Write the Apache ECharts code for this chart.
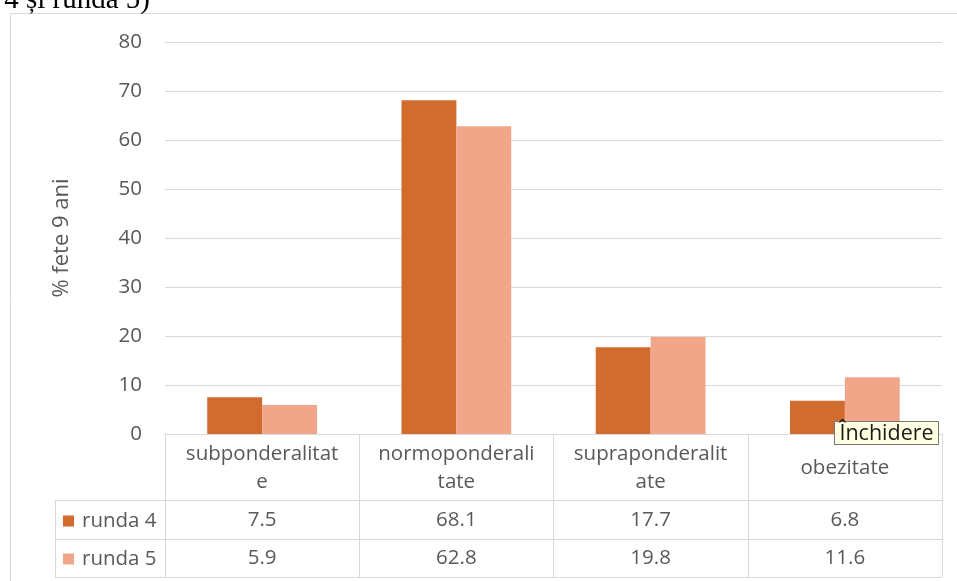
<!DOCTYPE html>
<html>
<head>
<meta charset="utf-8">
<script src="https://cdn.jsdelivr.net/npm/echarts@6/dist/echarts.min.js"></script>
<style>
html,body{margin:0;padding:0;background:#fff;}
#c{width:957px;height:581px;}
</style>
</head>
<body>
<div id="c"></div>
<script>
// ---- data ----
var categories = ['subponderalitate', 'normoponderalitate', 'supraponderalitate', 'obezitate'];
var categoryLabels = ['subponderalitat\ne', 'normoponderali\ntate', 'supraponderalit\nate', 'obezitate'];
var seriesNames = ['runda 4', 'runda 5'];
var runda4 = [7.5, 68.1, 17.7, 6.8];
var runda5 = [5.9, 62.8, 19.8, 11.6];
var yTicks = [0, 10, 20, 30, 40, 50, 60, 70, 80];
var yAxisTitle = '% fete 9 ani';
var topText = '(runda 4 și runda 5)';
var tooltipText = 'Închidere';

var FONT = '"Open Sans", "Noto Sans", sans-serif';
var FS = 20.5;
var GRAY = '#595959';
var LINE = '#d9d9d9';

var chart = echarts.init(document.getElementById('c'), null, {renderer: 'canvas'});

function headerRich(idx) {
  var parts = categoryLabels[idx].split('\n');
  var head;
  if (parts.length === 1) head = '{h2|' + parts[0] + '}';
  else head = parts.map(function (p) { return '{h|' + p + '}'; }).join('\n');
  return head + '\n{v1|' + runda4[idx].toFixed(1) + '}\n{v2|' + runda5[idx].toFixed(1) + '}';
}

var option = {
  animation: false,
  backgroundColor: '#ffffff',
  textStyle: {fontFamily: FONT},
  grid: {left: 165, right: 15, top: 42, bottom: 147, containLabel: false},
  legend: {
    orient: 'vertical',
    left: 58, top: 505,
    itemWidth: 11, itemHeight: 11, itemGap: 16,
    icon: 'rect',
    textStyle: {fontFamily: FONT, fontSize: FS, color: GRAY, lineHeight: 22, padding: [0, 0, 0, 3]},
    data: seriesNames
  },
  xAxis: {
    type: 'category',
    data: categories,
    axisLine: {show: true, lineStyle: {color: LINE, width: 1}},
    axisTick: {show: true, length: 143, interval: 0, lineStyle: {color: LINE, width: 1}},
    axisLabel: {
      interval: 0,
      margin: 6,
      verticalAlign: 'top',
      formatter: function (v, idx) { return headerRich(idx); },
      rich: {
        h: {fontFamily: FONT, fontSize: FS, color: GRAY, lineHeight: 28, align: 'center'},
        h2: {fontFamily: FONT, fontSize: FS, color: GRAY, lineHeight: 56, align: 'center'},
        v1: {fontFamily: FONT, fontSize: FS, color: GRAY, lineHeight: 48, align: 'center'},
        v2: {fontFamily: FONT, fontSize: FS, color: GRAY, lineHeight: 28, align: 'center'}
      }
    }
  },
  yAxis: {
    type: 'value',
    min: yTicks[0], max: yTicks[yTicks.length - 1], interval: yTicks[1] - yTicks[0],
    name: yAxisTitle,
    nameLocation: 'middle',
    nameGap: 92,
    nameRotate: 90,
    nameTextStyle: {fontFamily: FONT, fontSize: 22, color: GRAY},
    axisLine: {show: false},
    axisTick: {show: false},
    axisLabel: {fontFamily: FONT, fontSize: FS, color: GRAY, margin: 23},
    splitLine: {show: true, lineStyle: {color: LINE, width: 1}}
  },
  series: [
    {name: seriesNames[0], type: 'bar', data: runda4, barGap: '0%', barCategoryGap: '43.5%',
     itemStyle: {color: '#D26B2E'}},
    {name: seriesNames[1], type: 'bar', data: runda5, barGap: '0%', barCategoryGap: '43.5%',
     itemStyle: {color: '#F2A689'}}
  ],
  graphic: [
    // outer chart border
    {type: 'rect', silent: true, z: -10, shape: {x: 10.5, y: 13.5, width: 980, height: 700},
     style: {fill: null, stroke: LINE, lineWidth: 1}},
    // data table lines
    {type: 'line', silent: true, shape: {x1: 55, y1: 500.5, x2: 942, y2: 500.5}, style: {stroke: LINE, lineWidth: 1}},
    {type: 'line', silent: true, shape: {x1: 55, y1: 539.5, x2: 942, y2: 539.5}, style: {stroke: LINE, lineWidth: 1}},
    {type: 'line', silent: true, shape: {x1: 55, y1: 577.5, x2: 942, y2: 577.5}, style: {stroke: LINE, lineWidth: 1}},
    {type: 'line', silent: true, shape: {x1: 55.5, y1: 500, x2: 55.5, y2: 578}, style: {stroke: LINE, lineWidth: 1}},
    // clipped caption above the chart
    {type: 'text', silent: true, style: {text: topText, x: 150, y: 15, align: 'right', verticalAlign: 'bottom',
      font: '29px "Liberation Serif", "Times New Roman", serif', fill: '#000'}},
    // tooltip overlay
    {type: 'rect', z: 100, silent: true, shape: {x: 834.5, y: 421.5, width: 104, height: 23},
     style: {fill: '#FFFFE1', stroke: '#767676', lineWidth: 1}},
    {type: 'text', z: 101, silent: true, style: {text: tooltipText, x: 886.5, y: 433.5, align: 'center', verticalAlign: 'middle',
      font: '21.5px "Open Sans", sans-serif', fill: '#1a1a1a'}}
  ]
};
chart.setOption(option);
</script>
</body>
</html>
